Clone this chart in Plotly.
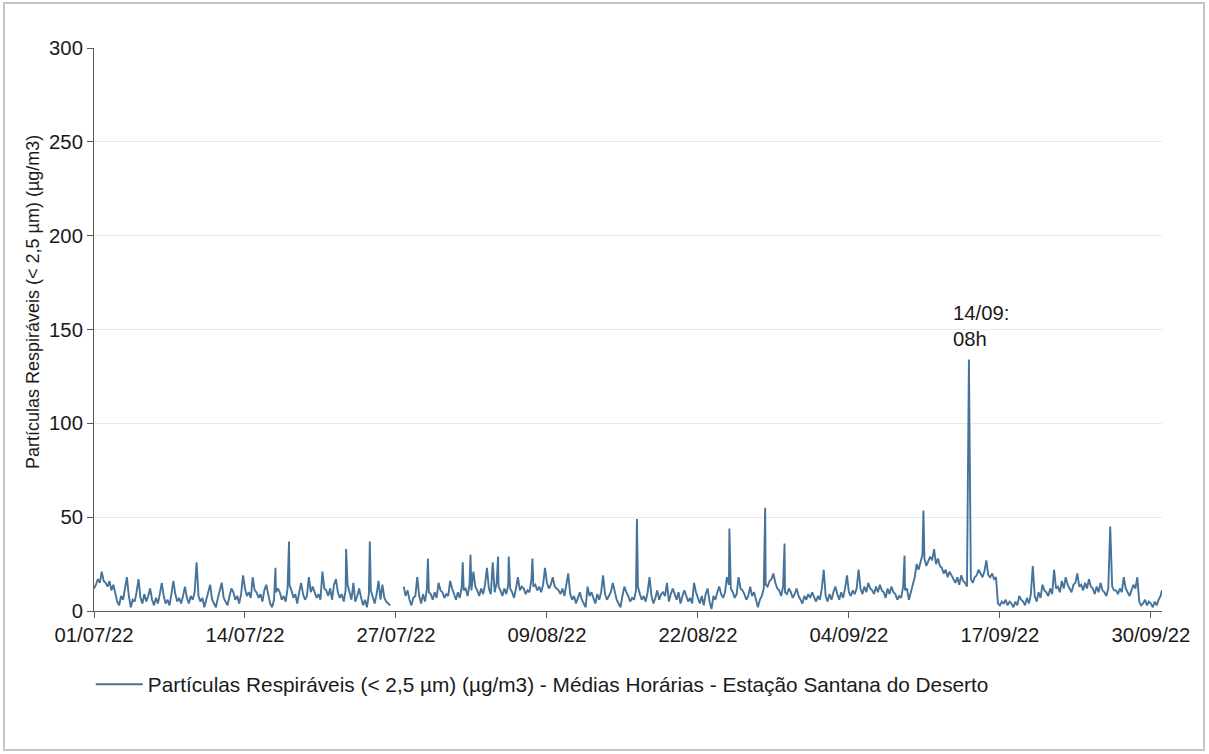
import pandas as pd
import plotly.graph_objects as go

# ---------------- data ----------------
start_date = "2022-07-01"
base_hours = [0, 4, 8, 12, 16, 20]          # sample hours inside each day

july_values = [
    [12, 14, 17, 15, 21, 16], [15, 13, 16, 11, 14, 10], [5, 3, 8, 6, 12, 18],
    [8, 2, 6, 5, 10, 17], [7, 4, 9, 5, 8, 12], [6, 3, 7, 4, 9, 15],
    [8, 4, 6, 3, 9, 16], [9, 5, 7, 4, 8, 13], [7, 4, 8, 6, 10, 12],
    [8, 5, 7, 2, 6, 10], [14, 6, 4, 2, 7, 11], [15, 7, 5, 3, 8, 12],
    [10, 6, 8, 4, 9, 19], [12, 8, 10, 7, 18, 11], [10, 7, 9, 5, 11, 14],
    [9, 4, 2, 6, 10, 12], [10, 6, 8, 5, 12, 14], [11, 7, 9, 4, 10, 15],
    [9, 6, 8, 18, 10, 13], [10, 7, 9, 6, 21, 12], [11, 8, 12, 6, 14, 17],
    [10, 7, 9, 5, 11, 14], [9, 6, 15, 5, 8, 12], [7, 3, 6, 2, 9, 11],
    [8, 4, 9, 16, 6, 14], [7, 5, 4, 3, None, None], [None, None, None, None, 13, 8],
    [11, 6, 3, 7, 8, 18], [8, 4, 9, 5, 12, 10], [9, 6, 10, 7, 15, 11],
    [10, 7, 9, 8, 16, 12],
]
august_values = [
    [9, 6, 10, 7, 13, 11], [12, 8, 14, 11, 21, 13], [11, 8, 12, 9, 14, 23],
    [12, 9, 11, 10, 15, 13], [11, 8, 12, 9, 14, 12], [10, 7, 12, 18, 11, 13],
    [12, 9, 11, 10, 17, 13], [14, 11, 13, 10, 14, 23], [15, 12, 14, 18, 13, 12],
    [11, 9, 12, 8, 13, 20], [9, 6, 8, 4, 7, 10], [6, 4, 2, 13, 8, 10],
    [7, 4, 9, 6, 10, 19], [9, 6, 8, 10, 15, 10], [6, 4, 2, 8, 13, 10],
    [8, 5, 7, 6, 11, 13], [9, 6, 8, 5, 10, 18], [8, 4, 7, 11, 6, 9],
    [10, 8, 15, 5, 9, 12], [9, 6, 10, 4, 8, 11], [8, 5, 7, 4, 15, 10],
    [7, 4, 8, 3, 9, 12], [5, 1, 8, 6, 10, 13], [9, 7, 10, 18, 14, 12],
    [10, 7, 9, 18, 12, 11], [9, 6, 8, 13, 8, 10], [6, 2, 6, 8, 12, 14],
    [13, 16, 17, 20, 15, 12], [11, 8, 13, 10, 9, 12], [10, 7, 9, 12, 8, 6],
    [4, 8, 6, 9, 7, 10],
]
september_values = [
    [7, 5, 8, 6, 12, 22], [8, 5, 9, 6, 10, 13], [9, 6, 10, 7, 12, 19],
    [10, 8, 11, 9, 12, 22], [12, 9, 13, 10, 15, 12], [11, 9, 13, 10, 14, 11],
    [10, 7, 12, 9, 13, 10], [9, 6, 8, 7, 13, 11], [12, 6, 10, 14, 18, 25],
    [22, 26, 30, 28, 24, 27], [29, 27, 33, 25, 28, 24], [23, 20, 22, 18, 21, 19],
    [17, 15, 18, 14, 19, 16], [15, 13, 16, 17, 15, 18], [19, 22, 20, 18, 21, 27],
    [19, 18, 20, 17, 18, 4], [3, 5, 4, 6, 3, 5], [4, 2, 5, 3, 8, 6],
    [5, 3, 7, 4, 9, 24], [8, 5, 10, 7, 14, 11], [10, 8, 12, 9, 22, 12],
    [13, 10, 16, 12, 18, 14], [12, 10, 14, 15, 20, 13], [14, 11, 15, 12, 17, 13],
    [12, 9, 13, 10, 15, 11], [10, 8, 12, 9, 13, 11], [11, 9, 12, 10, 18, 12],
    [10, 8, 11, 14, 12, 18], [5, 3, 4, 6, 3, 5], [4, 2, 5, 3, 6, 8],
]

# single-hour peaks and extra readings
peak_times = [
    "2022-07-09 20:00", "2022-07-16 15:00", "2022-07-17 19:00", "2022-07-22 17:00",
    "2022-07-24 18:00", "2022-07-29 18:00", "2022-08-01 18:00", "2022-08-02 10:00",
    "2022-08-04 08:00", "2022-08-04 19:00", "2022-08-05 17:00", "2022-08-07 18:00",
    "2022-08-16 18:00", "2022-08-24 17:00", "2022-08-27 19:00", "2022-08-29 11:00",
    "2022-09-08 19:00", "2022-09-10 10:00", "2022-09-14 08:00", "2022-09-14 09:00",
    "2022-09-26 12:00", "2022-09-30 23:00",
]
peak_values = [26, 23, 37, 33, 37, 28, 26, 30, 26, 29, 29, 28,
               49, 44, 55, 36, 29.5, 53.5, 134, 104, 45, 11]

x_ticks = ["2022-07-01", "2022-07-14", "2022-07-27", "2022-08-09",
           "2022-08-22", "2022-09-04", "2022-09-17", "2022-09-30"]
y_ticks = [0, 50, 100, 150, 200, 250, 300]

series_name = ("Partículas Respiráveis (< 2,5 µm) (µg/m3) - Médias Horárias - "
               "Estação Santana do Deserto")
y_title = "Partículas Respiráveis (< 2,5 µm) (µg/m3)"
note_time = "2022-09-14 08:00"
note_value = 134
note_text = "14/09:<br>08h"

# ---------------- build the hourly table ----------------
series = {}
t0 = pd.Timestamp(start_date)
for day, row in enumerate(july_values + august_values + september_values):
    for h, v in zip(base_hours, row):
        series[t0 + pd.Timedelta(days=day, hours=h)] = v
for t, v in zip(peak_times, peak_values):
    series[pd.Timestamp(t)] = v
s = pd.Series(series).sort_index()

# ---------------- figure ----------------
W, H = 1209, 754
L, R, T, B = 94, 47, 48, 143
pw, ph = W - L - R, H - T - B
font_family = "Arial, Liberation Sans, sans-serif"
line_color = "#46739a"
axis_color = "#5a5a5a"
text_color = "#1a1a1a"
fs = 20.3

fig = go.Figure()
fig.add_trace(go.Scatter(
    x=s.index, y=s.values, mode="lines", name=series_name,
    line=dict(color=line_color, width=1.9), connectgaps=False,
    showlegend=True,
))

fig.update_layout(
    template="none",
    width=W, height=H,
    margin=dict(l=L, r=R, t=T, b=B, pad=0),
    paper_bgcolor="white", plot_bgcolor="white",
    font=dict(family=font_family, color=text_color, size=fs),
    showlegend=True,
    legend=dict(orientation="h", x=-0.003, xanchor="left", y=-0.131, yanchor="middle",
                font=dict(size=20.8, color=text_color), bgcolor="rgba(0,0,0,0)",
                itemwidth=47),
    xaxis=dict(
        type="date", range=["2022-07-01 00:00", "2022-09-30 23:00"],
        tickvals=x_ticks, tickformat="%d/%m/%y", ticks="outside", ticklen=6,
        tickcolor=axis_color, showline=True, linecolor=axis_color, linewidth=1,
        showgrid=False, zeroline=False, automargin=False,
        tickfont=dict(size=fs, color=text_color),
    ),
    yaxis=dict(
        range=[0, 300], tickvals=y_ticks, ticks="outside", ticklen=6,
        tickcolor=axis_color, showline=True, linecolor=axis_color, linewidth=1,
        showgrid=True, gridcolor="#e9e9e9", gridwidth=1, zeroline=False,
        automargin=False, tickfont=dict(size=fs, color=text_color),
    ),
    annotations=[
        dict(x=note_time, y=note_value, xref="x", yref="y", text=note_text,
             showarrow=False, xanchor="left", yanchor="bottom", align="left",
             xshift=-18, yshift=8, font=dict(size=fs, color=text_color)),
        dict(x=(33 - L) / pw, y=(H - B - 302) / ph, xref="paper", yref="paper",
             text=y_title, textangle=-90, showarrow=False,
             xanchor="center", yanchor="middle",
             font=dict(size=18, color=text_color)),
    ],
    shapes=[dict(
        type="rect", xref="paper", yref="paper", layer="above",
        x0=(4 - L) / pw, x1=(1204 - L) / pw,
        y0=(H - B - 750) / ph, y1=(H - B - 3) / ph,
        line=dict(color="#c6c6c6", width=2), fillcolor="rgba(0,0,0,0)",
    )],
)

fig.write_html("out.html",
               config={"displayModeBar": False},
               post_script="document.body.style.margin='0';"
                           "document.body.style.overflow='hidden';")
